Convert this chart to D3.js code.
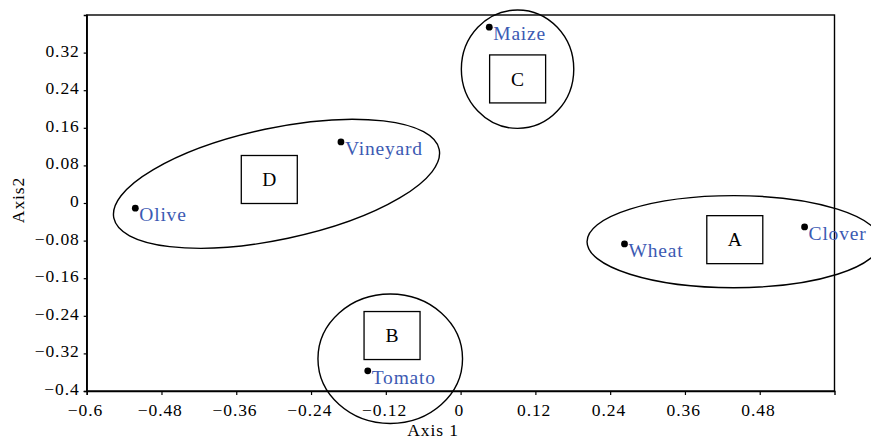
<!DOCTYPE html>
<html>
<head>
<meta charset="utf-8">
<script src="https://cdn.jsdelivr.net/npm/d3@7"></script>
<style>
  html, body { margin: 0; padding: 0; background: #fff; }
  svg { display: block; }
  text { font-family: "Liberation Serif", "Times New Roman", serif; }
</style>
</head>
<body>
<svg id="chart" width="871" height="440"></svg>
<script>
// ---- data ----
const cropNames = ["Olive", "Vineyard", "Maize", "Wheat", "Clover", "Tomato"];
const cropAxis1 = [-0.522, -0.192, 0.046, 0.263, 0.552, -0.149];
const cropAxis2 = [-0.011, 0.130, 0.374, -0.087, -0.051, -0.357];

const groupNames = ["A", "B", "C", "D"];
const groupAxis1 = [0.440, -0.110, 0.0915, -0.307];
const groupAxis2 = [-0.078, -0.282, 0.264, 0.050];

// ellipse: centre (data), semi-axes (data units), tilt in degrees
const ellipseCx = [0.4383, -0.1129, 0.0914, -0.2954];
const ellipseCy = [-0.0823, -0.3313, 0.2847, 0.0409];
const ellipseRx = [0.2354, 0.1160, 0.0902, 0.2668];
const ellipseRy = [0.0979, 0.1377, 0.1260, 0.1185];
const ellipseTilt = [0, 0, 0, -11.95];

const xTicks = [-0.6, -0.48, -0.36, -0.24, -0.12, 0, 0.12, 0.24, 0.36, 0.48];
const yTicks = [0.32, 0.24, 0.16, 0.08, 0, -0.08, -0.16, -0.24, -0.32, -0.4];

// ---- layout ----
const svg = d3.select("#chart");
const mLeft = 86.7, mRight = 834.5, mTop = 15, mBottom = 391;
const x = d3.scaleLinear().domain([-0.6, 0.6]).range([mLeft, mRight]);
const y = d3.scaleLinear().domain([-0.4, 0.4]).range([mBottom, mTop]);
const blue = "#3c5ab3";
const fmt = d => (d < 0 ? "\u2212" : "") + String(Math.abs(d));

// frame
svg.append("rect")
  .attr("x", mLeft).attr("y", mTop)
  .attr("width", mRight - mLeft).attr("height", mBottom - mTop)
  .attr("fill", "none").attr("stroke", "#000").attr("stroke-width", 1.4);

// axes
const xAxis = d3.axisBottom(x).tickValues(xTicks).tickSize(4).tickPadding(5).tickFormat(fmt);
const gx = svg.append("g").attr("transform", `translate(0,${mBottom})`).call(xAxis);
gx.select(".domain").attr("stroke-width", 1.4);
gx.selectAll(".tick line").attr("stroke-width", 1.2);
gx.selectAll(".tick text")
  .attr("font-size", 17.5).attr("letter-spacing", "0.9px")
  .attr("font-family", "'Liberation Serif', serif").attr("fill", "#000")
  .attr("dx", "-0.1em")
  .attr("dy", "0.93em");

const yAxis = d3.axisLeft(y).tickValues(yTicks).tickSize(3).tickPadding(4).tickFormat(fmt);
const gy = svg.append("g").attr("transform", `translate(${mLeft},0)`).call(yAxis);
gy.select(".domain").attr("stroke-width", 1.4);
gy.selectAll(".tick line").attr("stroke-width", 1.2);
gy.selectAll(".tick text")
  .attr("font-size", 17.5).attr("letter-spacing", "0.9px")
  .attr("font-family", "'Liberation Serif', serif").attr("fill", "#000")
  .attr("dy", "0.2em");

// axis titles
svg.append("text").attr("x", 433).attr("y", 436)
  .attr("text-anchor", "middle").attr("font-size", 17.5).attr("letter-spacing", "0.9px")
  .attr("fill", "#000").text("Axis 1");
svg.append("text")
  .attr("transform", "translate(24,200) rotate(-90)")
  .attr("text-anchor", "middle").attr("font-size", 17.5).attr("letter-spacing", "0.9px")
  .attr("fill", "#000").text("Axis2");

// ellipses
const ell = groupNames.map((g, i) => ({
  cx: ellipseCx[i], cy: ellipseCy[i], rx: ellipseRx[i], ry: ellipseRy[i], t: ellipseTilt[i]
}));
svg.append("g").selectAll("ellipse").data(ell).join("ellipse")
  .attr("transform", d => `translate(${x(d.cx)},${y(d.cy)}) rotate(${d.t})`)
  .attr("rx", d => x(d.rx) - x(0))
  .attr("ry", d => y(0) - y(d.ry))
  .attr("fill", "none").attr("stroke", "#000").attr("stroke-width", 1.4);

// group boxes
const boxW = 56, boxH = 48;
const groups = groupNames.map((g, i) => ({ name: g, a1: groupAxis1[i], a2: groupAxis2[i] }));
const gb = svg.append("g").selectAll("g").data(groups).join("g")
  .attr("transform", d => `translate(${x(d.a1)},${y(d.a2)})`);
gb.append("rect")
  .attr("x", -boxW / 2).attr("y", -boxH / 2).attr("width", boxW).attr("height", boxH)
  .attr("fill", "#fff").attr("stroke", "#000").attr("stroke-width", 1.3);
gb.append("text").attr("text-anchor", "middle").attr("dy", "0.35em")
  .attr("font-size", 19.5).attr("fill", "#000").text(d => d.name);

// crop points
const crops = cropNames.map((c, i) => ({ name: c, a1: cropAxis1[i], a2: cropAxis2[i] }));
const gc = svg.append("g").selectAll("g").data(crops).join("g")
  .attr("transform", d => `translate(${x(d.a1)},${y(d.a2)})`);
gc.append("circle").attr("r", 3.4).attr("fill", "#000");
gc.append("text").attr("x", 4).attr("y", 13)
  .attr("font-size", 19.5).attr("letter-spacing", "0.8px").attr("fill", blue)
  .text(d => d.name);
</script>
</body>
</html>
